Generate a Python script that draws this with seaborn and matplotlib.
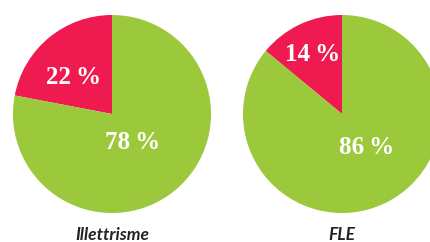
import matplotlib
matplotlib.use("Agg")
import matplotlib.pyplot as plt
import seaborn as sns

# share of each group (red = first slice, green = second)
groups = ["Illettrisme", "FLE"]
red_share = [22, 14]
green_share = [78, 86]
# label spots inside each pie (unit circle coords)
red_label_pos = [(-0.39, 0.37), (-0.30, 0.60)]
green_label_pos = [(0.21, -0.29), (0.25, -0.34)]

RED = "#ee1a50"
GREEN = "#9cc93c"

sns.set_theme(style="white")

W, H = 431, 242
fig = plt.figure(figsize=(W / 100, H / 100), dpi=100)
fig.patch.set_facecolor("white")

centers_x = [112, 342]
cy = 114
r = 99

for i, name in enumerate(groups):
    cx = centers_x[i]
    ax = fig.add_axes([(cx - r) / W, (H - cy - r) / H, 2 * r / W, 2 * r / H])
    ax.pie([red_share[i], green_share[i]], colors=[RED, GREEN], startangle=90,
           wedgeprops=dict(linewidth=0))
    ax.set_xlim(-1, 1)
    ax.set_ylim(-1, 1)
    ax.axis("off")
    for pos, val in [(red_label_pos[i], red_share[i]), (green_label_pos[i], green_share[i])]:
        ax.text(pos[0], pos[1], f"{val}\u2009%", color="white", fontsize=18,
                fontweight="bold", family="Liberation Serif",
                ha="center", va="center")
    fig.text(cx / W, 1 - 235 / H, name, ha="center", va="center",
             fontsize=12.5, fontweight="bold", style="italic",
             family="Lato", color="#222222")

fig.savefig("out.png", dpi=100)
